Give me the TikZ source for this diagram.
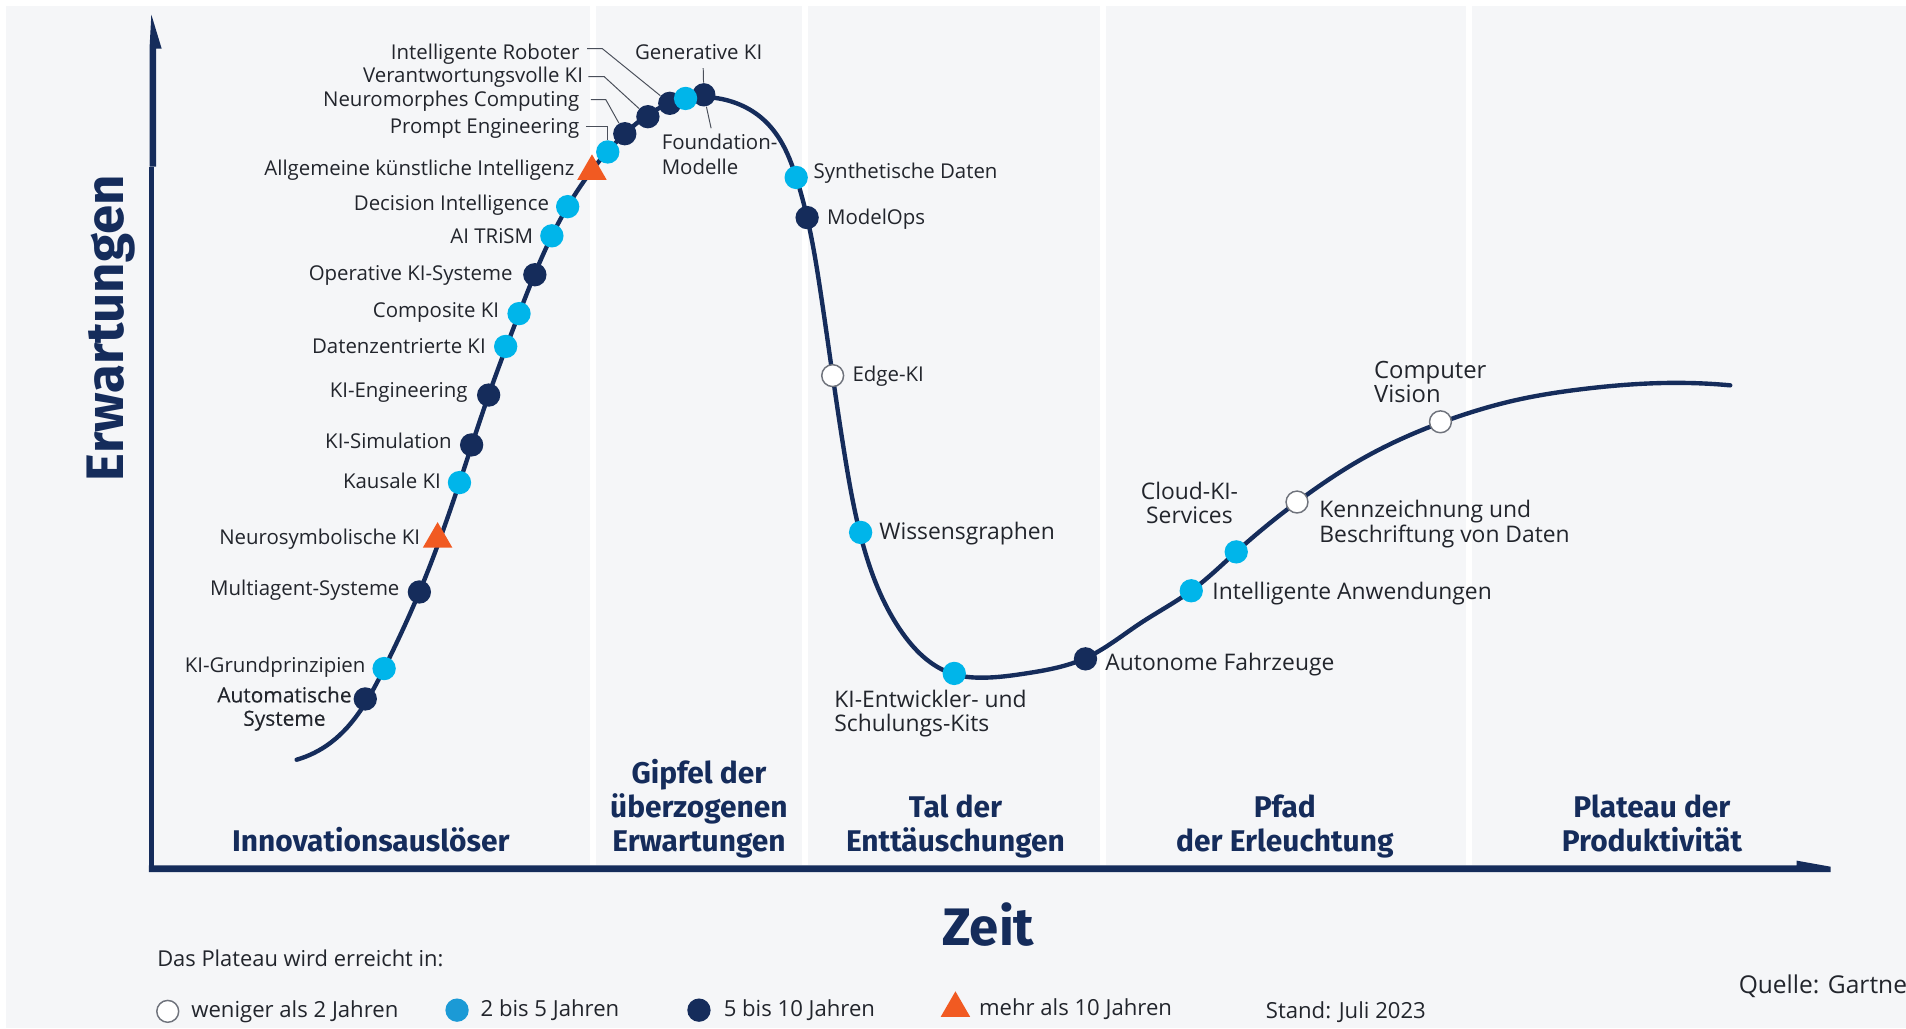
\documentclass[tikz,border=0pt]{standalone}
\usepackage{fontspec}
\setmainfont{Open Sans}
\newfontfamily\headf{Fira Sans}
\newfontfamily\medf[FakeBold=0.25]{Open Sans}
\usetikzlibrary{shapes.geometric,hobby}
\definecolor{navy}{HTML}{152C5B}
\definecolor{cyanb}{HTML}{00B5EA}
\definecolor{orangeb}{HTML}{F15A22}
\definecolor{legblue}{HTML}{1B9AD6}
\definecolor{panel}{HTML}{F5F6F8}
\definecolor{txt}{HTML}{22252C}
\definecolor{leader}{HTML}{4A4F5A}
\definecolor{ring}{HTML}{6F737C}
\tikzset{
  dotbase/.style={circle,inner sep=0pt,minimum size=9.6pt},
  navydot/.style={dotbase,fill=navy},
  cyandot/.style={dotbase,fill=cyanb},
  opendot/.style={dotbase,fill=white,draw=ring,line width=0.6pt,minimum size=9pt},
  tri/.style={regular polygon,regular polygon sides=3,inner sep=0pt,minimum size=14pt,fill=orangeb},
  lab/.style={inner sep=0pt,text=txt,font=\fontsize{8.4}{10}\selectfont,align=left},
  big/.style={font=\fontsize{9.4}{10}\selectfont},
  leg/.style={font=\fontsize{9.1}{10}\selectfont},
  one/.style={text height=6pt,text depth=2pt,yshift=-1pt},
  labl/.style={lab,one,anchor=west},
  labr/.style={lab,one,anchor=east},
  twol/.style={lab,anchor=west},
  phase/.style={inner sep=0pt,text=navy,align=center,font=\headf\bfseries\fontsize{12.3}{14}\selectfont},
  leaderline/.style={draw=leader,line width=0.4pt},
}
\begin{document}
\begin{tikzpicture}[x=0.5pt,y=-0.5pt]
\useasboundingbox (0,0) rectangle (1568,846);
\fill[white] (0,0) rectangle (1568,846);
\fill[panel] (5,5) rectangle (1568,846);
\foreach \a/\b in {485/490,660/665,905/910,1206/1211}
  \fill[white] (\a,5) rectangle (\b,712);
% axes
\fill[navy] (122.5,137) rectangle (127,717);
\fill[navy] (123,137) -- (123,40) -- (124.5,12) -- (133,40) -- (128.5,40) -- (128.5,137) -- cycle;
\fill[navy] (122.5,712) -- (1478,712) -- (1478,708) -- (1506,713) -- (1506,717.5) -- (122.5,717.5) -- cycle;
% curve
\draw[navy,line width=1.8pt,line cap=round,use Hobby shortcut]
(244,625) .. (272,611) .. (316,550) .. (345,487) .. (378,397) .. (402,325) .. (427,258) .. (454,194) .. (487,140) .. (514,110) .. (551,85) .. (582,80) .. (606,85) .. (625.3,96) .. (641.7,115) .. (655,146) .. (664,179) .. (675,240) .. (685,309) .. (695,375) .. (707.5,438.7) .. (740.5,518) .. (784.3,554.5) .. (809,557.5) .. (844.6,553.9) .. (892.6,541.6) .. (938,512.8) .. (980,486) .. (1017,454) .. (1067,413) .. (1125,375) .. (1195.7,344) .. (1247.8,329) .. (1302.6,320) .. (1385,315) .. (1423.4,317);
% leader anchors
\coordinate (l1a) at (483,40); \coordinate (l1b) at (495.5,40);
\coordinate (l2a) at (484,63); \coordinate (l2b) at (497,63);
\coordinate (l3a) at (486,82); \coordinate (l3b) at (498.4,82);
\coordinate (l4a) at (482,104); \coordinate (l4b) at (500,104);
\coordinate (g1) at (578.5,56);
\coordinate (f1) at (585,105.5);
% dots
\node[navydot] (d1) at (300.5,575) {};
\node[cyandot] (d2) at (316,550) {};
\node[navydot] (d3) at (345,487) {};
\node[tri] (d4) at (360,443.5) {};
\node[cyandot] (d5) at (378,397) {};
\node[navydot] (d6) at (388,366) {};
\node[navydot] (d7) at (402,325) {};
\node[cyandot] (d8) at (416,285) {};
\node[cyandot] (d9) at (427,258) {};
\node[navydot] (d10) at (440,226) {};
\node[cyandot] (d11) at (454,194) {};
\node[cyandot] (d12) at (467,170) {};
\node[tri] (d13) at (487,141) {};
\node[cyandot] (d14) at (500,125) {};
\node[navydot] (d15) at (514,110) {};
\node[navydot] (d16) at (533,96) {};
\node[navydot] (d17) at (551,85) {};
\node[navydot] (d19) at (579,78) {};
\node[cyandot] (d18) at (564,81) {};
\node[cyandot] (d20) at (655,146) {};
\node[navydot] (d21) at (664,179) {};
\node[opendot] (d22) at (685,309) {};
\node[cyandot] (d23) at (708,438) {};
\node[cyandot] (d24) at (785,554) {};
\node[navydot] (d25) at (893,542) {};
\node[cyandot] (d26) at (980,486) {};
\node[cyandot] (d27) at (1017,454) {};
\node[opendot] (d28) at (1067,413) {};
\node[opendot] (d29) at (1185,347) {};
% leaders
\draw[leaderline] (l1a) -- (l1b) -- (d17);
\draw[leaderline] (l2a) -- (l2b) -- (d16);
\draw[leaderline] (l3a) -- (l3b) -- (d15);
\draw[leaderline] (l4a) -- (l4b) -- (d14);
\draw[leaderline] (g1) -- (d19);
\draw[leaderline] (f1) -- (d19);
% labels
\node[lab,align=center,font=\medf\fontsize{8.6}{9.6}\selectfont] (t1) at (234,583) {Automatische\\Systeme};
\node[labr] (t2) at (301,547) {KI-Grundprinzipien};
\node[labr] (t3) at (329,484) {Multiagent-Systeme};
\node[labr] (t4) at (346,442) {Neurosymbolische KI};
\node[labr] (t5) at (363,396) {Kausale KI};
\node[labr] (t6) at (372,363) {KI-Simulation};
\node[labr] (t7) at (385,321) {KI-Engineering};
\node[labr] (t8) at (400,285) {Datenzentrierte KI};
\node[labr] (t9) at (411,255) {Composite KI};
\node[labr] (t10) at (422,225) {Operative KI-Systeme};
\node[labr] (t11) at (439,194) {AI TRiSM};
\node[labr] (t12) at (452,167) {Decision Intelligence};
\node[labr] (t13) at (473,138) {Allgemeine künstliche Intelligenz};
\node[labr] (t14) at (477,104) {Prompt Engineering};
\node[labr] (t15) at (477,82) {Neuromorphes Computing};
\node[labr] (t16) at (480,62) {Verantwortungsvolle KI};
\node[labr] (t17) at (477,43) {Intelligente Roboter};
\node[labl] (t18) at (522,43) {Generative KI};
\node[twol] (t19) at (544,127) {Foundation-\\Modelle};
\node[labl] (t20) at (669,141) {Synthetische Daten};
\node[labl] (t21) at (680,179) {ModelOps};
\node[labl] (t22) at (701,308) {Edge-KI};
\node[labl,big] (t23) at (723,438) {Wissensgraphen};
\node[twol,big] (t24) at (686,587) {KI-Entwickler- und\\Schulungs-Kits};
\node[labl,big] (t25) at (909,546) {Autonome Fahrzeuge};
\node[labl,big] (t26) at (997,487) {Intelligente Anwendungen};
\node[lab,big,align=center] (t27) at (978.5,414) {Cloud-KI-\\Services};
\node[twol,big] (t28) at (1085,431) {Kennzeichnung und\\Beschriftung von Daten};
\node[twol,big,font=\fontsize{9.8}{10}\selectfont] (t29) at (1130,314) {Computer\\Vision};
% phases
\node[phase] (p1) at (305,691) {Innovationsauslöser};
\node[phase] (p2) at (575,665) {Gipfel der\\überzogenen\\Erwartungen};
\node[phase] (p3) at (786,680) {Tal der\\Enttäuschungen};
\node[phase] (p4) at (1057,680) {Pfad\\der Erleuchtung};
\node[phase] (p5) at (1359,677.5) {Plateau der\\Produktivität};
% axis titles
\node[inner sep=0pt,text=navy,rotate=90,font=\headf\bfseries\fontsize{21.7}{24}\selectfont] (ay) at (91,270) {Erwartungen};
\node[inner sep=0pt,text=navy,font=\headf\bfseries\fontsize{21.7}{24}\selectfont] (ax) at (813,761) {Zeit};
% legend
\node[labl,font=\fontsize{9}{10}\selectfont] (k0) at (129,789) {Das Plateau wird erreicht in:};
\node[opendot] (k1) at (138,832) {};
\node[dotbase,fill=legblue] (k2) at (376,831) {};
\node[navydot] (k3) at (575,831) {};
\node[tri] (k4) at (786,829.5) {};
\node[labl,leg] (k5) at (157,831) {weniger als 2 Jahren};
\node[labl,leg] (k6) at (395,830) {2 bis 5 Jahren};
\node[labl,leg] (k7) at (595,830) {5 bis 10 Jahren};
\node[labl,leg] (k8) at (805,829) {mehr als 10 Jahren};
\node[labl,leg] (k9) at (1041,832) {Stand: Juli 2023};
\node[labl,font=\fontsize{10.1}{10}\selectfont] (k10) at (1430,811) {Quelle: Gartne};
\end{tikzpicture}
\end{document}
